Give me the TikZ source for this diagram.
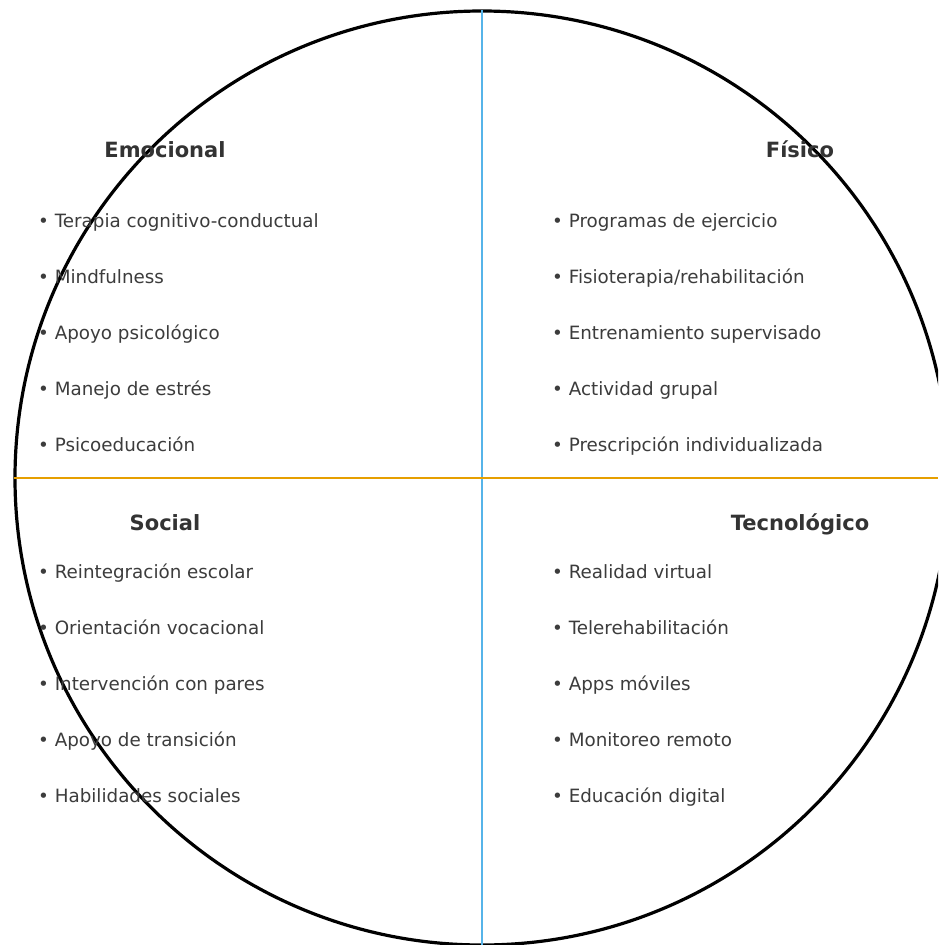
\documentclass[tikz,border=0pt]{standalone}
\usepackage{fontspec}
\setmainfont{DejaVu Sans}
\definecolor{txt}{HTML}{333333}
\definecolor{itxt}{HTML}{3C3C3C}
\definecolor{vblue}{HTML}{56B4E9}
\definecolor{horange}{HTML}{E69F00}
\tikzset{
  item/.style={anchor=base west, inner sep=0pt, text=itxt, font=\fontsize{18.3}{21}\selectfont},
  title/.style={anchor=base, inner sep=0pt, text=txt, font=\fontsize{21}{24}\selectfont\bfseries},
}
\begin{document}
\begin{tikzpicture}[x=1pt,y=-1pt]
\useasboundingbox (0,0) rectangle (938,945);
\fill[white] (0,0) rectangle (938,945);
\begin{scope}
\clip (0,0) rectangle (938,945);
\draw[line width=3.2pt, black] (482,478) circle (467);
\end{scope}
\coordinate (vt) at (482,10);
\coordinate (vb) at (482,945);
\coordinate (hl) at (14,478);
\coordinate (hr) at (938,478);
\draw[vblue, line width=2pt] (vt) -- (vb);
\draw[horange, line width=2pt] (hl) -- (hr);

\node[title] (t1) at (165,157) {Emocional};
\node[title] (t2) at (800,157) {Físico};
\node[title] (t3) at (165,530) {Social};
\node[title] (t4) at (800,530) {Tecnológico};

\node[item] (e1) at (38,227) {• Terapia cognitivo-conductual};
\node[item] (e2) at (38,283) {• Mindfulness};
\node[item] (e3) at (38,339) {• Apoyo psicológico};
\node[item] (e4) at (38,395) {• Manejo de estrés};
\node[item] (e5) at (38,451) {• Psicoeducación};

\node[item] (f1) at (552,227) {• Programas de ejercicio};
\node[item] (f2) at (552,283) {• Fisioterapia/rehabilitación};
\node[item] (f3) at (552,339) {• Entrenamiento supervisado};
\node[item] (f4) at (552,395) {• Actividad grupal};
\node[item] (f5) at (552,451) {• Prescripción individualizada};

\node[item] (s1) at (38,578) {• Reintegración escolar};
\node[item] (s2) at (38,634) {• Orientación vocacional};
\node[item] (s3) at (38,690) {• Intervención con pares};
\node[item] (s4) at (38,746) {• Apoyo de transición};
\node[item] (s5) at (38,802) {• Habilidades sociales};

\node[item] (k1) at (552,578) {• Realidad virtual};
\node[item] (k2) at (552,634) {• Telerehabilitación};
\node[item] (k3) at (552,690) {• Apps móviles};
\node[item] (k4) at (552,746) {• Monitoreo remoto};
\node[item] (k5) at (552,802) {• Educación digital};
\end{tikzpicture}
\end{document}
